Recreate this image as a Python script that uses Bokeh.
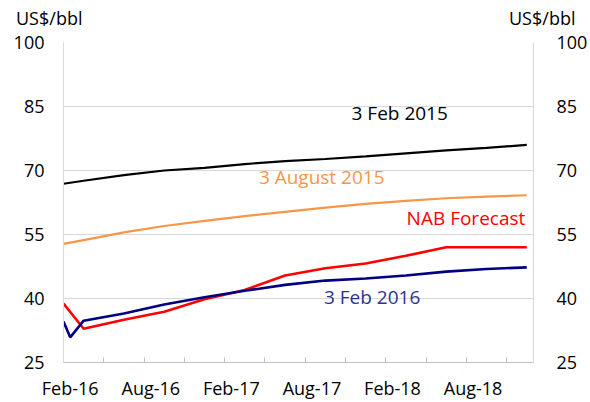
from bokeh.plotting import figure
from bokeh.models import Range1d, LinearAxis, FixedTicker, Div
from bokeh.layouts import column
from bokeh.core.properties import value
from bokeh.embed import file_html
from bokeh.resources import INLINE

# x positions are months since 1 Feb 2016 (mid-month points)
QUARTER_X = [1.5, 4.5, 7.5, 10.5, 13.5, 16.5, 19.5, 22.5, 25.5, 28.5, 31.5, 34.5]

feb2015_x = [0.0] + QUARTER_X
feb2015 = [66.9, 67.6, 68.9, 70.0, 70.6, 71.5, 72.2, 72.7, 73.3, 74.0, 74.7, 75.3, 76.0]

aug2015_x = [0.0] + QUARTER_X
aug2015 = [52.8, 53.7, 55.5, 57.0, 58.2, 59.3, 60.3, 61.3, 62.2, 62.9, 63.5, 63.9, 64.2]

nab_x = [0.0] + QUARTER_X
nab = [38.8, 32.9, 35.0, 36.9, 39.8, 42.0, 45.4, 47.1, 48.2, 50.0, 52.0, 52.0, 52.0]

feb2016_x = [0.0, 0.5] + QUARTER_X
feb2016 = [34.6, 30.9, 34.8, 36.5, 38.6, 40.3, 41.8, 43.2, 44.2, 44.7, 45.4, 46.3, 46.9, 47.3]

X_LABEL_MONTHS = [0, 6, 12, 18, 24, 30]
X_LABELS = ["Feb-16", "Aug-16", "Feb-17", "Aug-17", "Feb-18", "Aug-18"]
X_TICK_MONTHS = [0, 3, 6, 9, 12, 15, 18, 21, 24, 27, 30, 33]
Y_TICKS = [25, 40, 55, 70, 85, 100]
UNIT = "US$/bbl"

FONT = "Open Sans"
GRID = "#D9D9D9"
AXIS = "#BFBFBF"
BLACK = "#000000"
ORANGE = "#F79646"
RED = "#FF0000"
NAVY = "#000080"
NAVY_TEXT = "#2E3192"

# ---- header strip with the unit labels ----
head_html = (
    '<div style="position:relative;width:590px;height:30px;margin:0;padding:0;'
    "font-family:'Open Sans';font-size:18px;line-height:1;color:#000000;\">"
    f'<span style="position:absolute;left:16px;top:9px;white-space:nowrap;">{UNIT}</span>'
    f'<span style="position:absolute;left:509px;top:9px;white-space:nowrap;">{UNIT}</span>'
    '</div>'
)
head = Div(text=head_html, width=590, height=30, margin=0)

# ---- main chart ----
p = figure(width=590, height=372, x_range=Range1d(0, 35), y_range=Range1d(25, 100),
           output_backend="svg", toolbar_location=None,
           min_border_left=63, min_border_right=48, min_border_top=12, min_border_bottom=38)
p.outline_line_color = None
p.background_fill_color = "white"
p.border_fill_color = "white"

yticker = FixedTicker(ticks=Y_TICKS)
p.yaxis.ticker = yticker
p.yaxis.major_tick_line_color = None
p.yaxis.minor_tick_line_color = None
p.yaxis.axis_line_color = GRID
p.yaxis.major_label_text_font = FONT
p.yaxis.major_label_text_font_size = "18px"
p.yaxis.major_label_text_color = BLACK
p.yaxis.major_label_standoff = 13

p.ygrid.ticker = yticker
p.ygrid.grid_line_color = GRID
p.xgrid.grid_line_color = None

label_pos = [m + 0.5 for m in X_LABEL_MONTHS]
p.xaxis.ticker = FixedTicker(ticks=label_pos, minor_ticks=X_TICK_MONTHS)
p.xaxis.major_label_overrides = {pos: lab for pos, lab in zip(label_pos, X_LABELS)}
p.xaxis.major_tick_line_color = None
p.xaxis.major_tick_in = 0
p.xaxis.major_tick_out = 0
p.xaxis.minor_tick_in = 5
p.xaxis.minor_tick_out = 0
p.xaxis.minor_tick_line_color = AXIS
p.xaxis.axis_line_color = AXIS
p.xaxis.major_label_text_font = FONT
p.xaxis.major_label_text_font_size = "18px"
p.xaxis.major_label_text_color = BLACK
p.xaxis.major_label_standoff = 13

ra = LinearAxis(ticker=yticker, major_label_standoff=17,
                major_tick_line_color=None, minor_tick_line_color=None, axis_line_color=GRID,
                major_label_text_font=FONT, major_label_text_font_size="18px",
                major_label_text_color=BLACK)
p.add_layout(ra, "right")

p.line(feb2015_x, feb2015, line_color=BLACK, line_width=2.2)
p.line(aug2015_x, aug2015, line_color=ORANGE, line_width=2.2)
p.line(nab_x, nab, line_color=RED, line_width=2.6)
p.line(feb2016_x, feb2016, line_color=NAVY, line_width=2.6)

p.text(x=[21.45], y=[83.4], text=["3 Feb 2015"], text_align="left", text_baseline="middle",
       text_font=value(FONT), text_font_size="19px", text_color=BLACK)
p.text(x=[14.55], y=[68.4], text=["3 August 2015"], text_align="left", text_baseline="middle",
       text_font=value(FONT), text_font_size="19px", text_color=ORANGE)
p.text(x=[25.55], y=[58.8], text=["NAB Forecast"], text_align="left", text_baseline="middle",
       text_font=value(FONT), text_font_size="19px", text_color=RED)
p.text(x=[19.4], y=[40.46], text=["3 Feb 2016"], text_align="left", text_baseline="middle",
       text_font=value(FONT), text_font_size="19px", text_color=NAVY_TEXT)

layout = column(head, p, spacing=0)
open("out.html", "w").write(file_html(layout, INLINE))
